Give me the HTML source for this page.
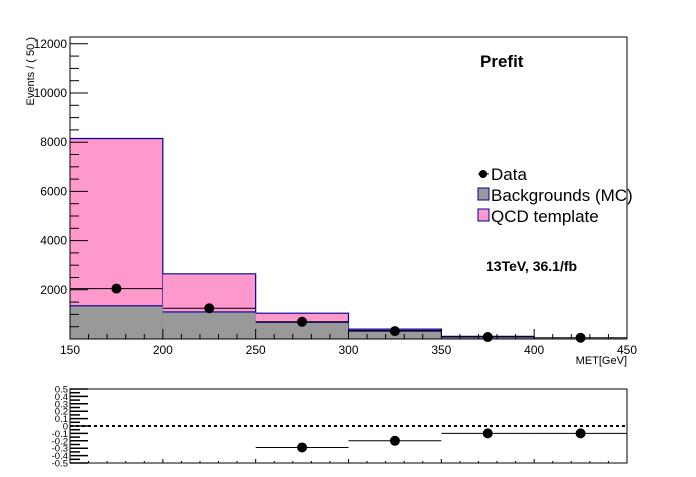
<!DOCTYPE html>
<html><head><meta charset="utf-8"><style>
body{margin:0;background:#fff;}
svg text{font-family:"Liberation Sans",sans-serif;}
</style></head><body>
<svg id="c" width="696" height="472" xmlns="http://www.w3.org/2000/svg"></svg>
<script>
const binEdges=[150,200,250,300,350,400,450];
const bkgValues=[1350,1100,680,340,90,0];
const qcdStackValues=[8150,2650,1050,400,110,0];
const dataValues=[2050,1250,700,320,80,50];
const ratioValues=[null,null,-0.29,-0.2,-0.1,-0.1];
const ratioErr=[0,0,0.02,0.02,0.03,0.05];
const yTicks=[2000,4000,6000,8000,10000,12000];
const xTicks=[150,200,250,300,350,400,450];
const rTicks=[-0.5,-0.4,-0.3,-0.2,-0.1,0,0.1,0.2,0.3,0.4,0.5];
const NS="http://www.w3.org/2000/svg";
const svg=document.getElementById('c');
function mk(t,a,p){const e=document.createElementNS(NS,t);for(const k in a)e.setAttribute(k,a[k]);(p||svg).appendChild(e);return e;}
const X0=70,X1=627,Y0=339,YT=37;
const x=v=>X0+(v-150)/300*(X1-X0);
const y=v=>Y0-v/2000*49.2;
const RY0=389,RY1=463;
const ry=v=>RY0+(0.5-v)/1*(RY1-RY0);
let f=mk('rect',{x:X0,y:YT,width:X1-X0,height:Y0-YT,fill:'none',stroke:'#000'});

for(let i=0;i<6;i++){
  const xa=x(binEdges[i]),xb=x(binEdges[i+1]);
  if(qcdStackValues[i]>0){let r=mk('rect',{x:xa,y:y(qcdStackValues[i]),width:xb-xa,height:Y0-y(qcdStackValues[i]),fill:'#ff99cc'});
  
  mk('polyline',{points:`${xa},${y(qcdStackValues[i])} ${xb},${y(qcdStackValues[i])} ${xb},${Y0}`,fill:'none',stroke:'#000099','stroke-width':1.2});}
  if(bkgValues[i]>0){let r=mk('rect',{x:xa,y:y(bkgValues[i]),width:xb-xa,height:Y0-y(bkgValues[i]),fill:'#999'});
  
  mk('line',{x1:xa,x2:xb,y1:y(bkgValues[i]),y2:y(bkgValues[i]),stroke:'#000099','stroke-width':1.2});}
}
for(let i=0;i<6;i++){
  const xa=x(binEdges[i]),xb=x(binEdges[i+1]),xc=(xa+xb)/2,yy=y(dataValues[i]);
  mk('line',{x1:xa,x2:xb,y1:yy,y2:yy,stroke:'#000'});
  let c=mk('circle',{cx:xc,cy:yy,r:5,fill:'#000'});
  
}
mk('rect',{x:X0,y:YT,width:X1-X0,height:Y0-YT,fill:'none',stroke:'#000'});
for(let v=500;v<=12000;v+=500){const big=v%2000===0;mk('line',{x1:X0,x2:X0+(big?18:9),y1:y(v),y2:y(v),stroke:'#000'});}
yTicks.forEach(v=>{let t=mk('text',{x:X0-3,y:y(v)+4,'text-anchor':'end','font-size':12});t.textContent=v;});
xTicks.forEach((v,i)=>{mk('line',{x1:x(v),x2:x(v),y1:Y0,y2:Y0-10,stroke:'#000'});
  let t=mk('text',{x:x(v),y:Y0+15,'text-anchor':'middle','font-size':12});t.textContent=v;});
for(let v=160;v<450;v+=10){if(v%50)mk('line',{x1:x(v),x2:x(v),y1:Y0,y2:Y0-5,stroke:'#000'});}
let t=mk('text',{x:627,y:364,'text-anchor':'end','font-size':11});t.textContent='MET[GeV]';
t=mk('text',{x:0,y:0,'text-anchor':'end','font-size':11,transform:'translate(34,37) rotate(-90)'});t.textContent='Events / ( 50 )';
t=mk('text',{x:480,y:67,'font-size':17,'font-weight':'bold'});t.textContent='Prefit';
t=mk('text',{x:486,y:271,'font-size':14,'font-weight':'bold'});t.textContent='13TeV, 36.1/fb';
let g=mk('g',{});
mk('circle',{cx:483,cy:174,r:4,fill:'#000'},g);mk('line',{x1:478,x2:489,y1:174,y2:174,stroke:'#000'},g);
mk('rect',{x:478,y:188,width:11,height:12,fill:'#999',stroke:'#000099'},g);
mk('rect',{x:478,y:209,width:11,height:12,fill:'#ff99cc',stroke:'#000099'},g);
[['Data',180],['Backgrounds (MC)',201],['QCD template',222]].forEach(([s,yy])=>{let e=mk('text',{x:491,y:yy,'font-size':17},g);e.textContent=s;});
f=mk('rect',{x:X0,y:RY0,width:X1-X0,height:RY1-RY0,fill:'none',stroke:'#000'});

rTicks.forEach(v=>{mk('line',{x1:X0,x2:X0+18,y1:ry(v),y2:ry(v),stroke:'#000','stroke-width':1.5});
  let e=mk('text',{x:X0-2,y:ry(v)+3.5,'text-anchor':'end','font-size':9.5});e.textContent=v;});
for(let v=-0.45;v<0.5;v+=0.1)mk('line',{x1:X0,x2:X0+10,y1:ry(v),y2:ry(v),stroke:'#000','stroke-width':1.5});
xTicks.forEach(v=>mk('line',{x1:x(v),x2:x(v),y1:RY1,y2:RY1-4,stroke:'#000'}));
for(let v=160;v<450;v+=10){if(v%50)mk('line',{x1:x(v),x2:x(v),y1:RY1,y2:RY1-2,stroke:'#000'});}
mk('line',{x1:X0,x2:X1,y1:ry(0),y2:ry(0),stroke:'#000','stroke-width':2,'stroke-dasharray':'3,3'});
for(let i=0;i<6;i++){if(ratioValues[i]===null)continue;
  const xa=x(binEdges[i]),xb=x(binEdges[i+1]),xc=(xa+xb)/2,yy=ry(ratioValues[i]);
  mk('line',{x1:xa,x2:xb,y1:yy,y2:yy,stroke:'#000'});
  mk('line',{x1:xc,x2:xc,y1:ry(ratioValues[i]+ratioErr[i]),y2:ry(ratioValues[i]-ratioErr[i]),stroke:'#000'});
  let c=mk('circle',{cx:xc,cy:yy,r:5,fill:'#000'});}
</script>
</body></html>
